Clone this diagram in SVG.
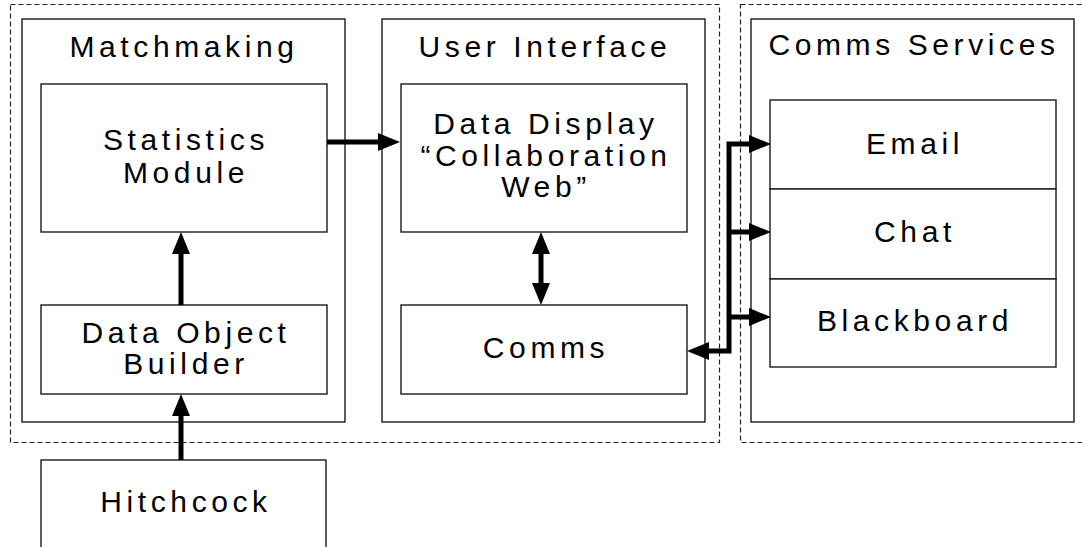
<svg xmlns="http://www.w3.org/2000/svg" width="1082" height="547" viewBox="0 0 1082 547">
<style>
.bg{fill:#ffffff}
.grp{fill:none;stroke:#222;stroke-width:1.2;stroke-dasharray:5 3}
.box{fill:#ffffff;stroke:#1a1a1a;stroke-width:1.4}
.t{font-family:"Liberation Sans",Arial,Helvetica,sans-serif;font-size:30px;letter-spacing:4.6px;fill:#000;text-anchor:middle}
.c{fill:none;stroke:#000;stroke-width:5;stroke-linejoin:miter}
.ca{marker-end:url(#ah)}
.cb{marker-start:url(#ah);marker-end:url(#ah)}
.cs{marker-start:url(#ah)}
</style>
<defs>
<marker id="ah" markerUnits="userSpaceOnUse" markerWidth="24" markerHeight="20" viewBox="0 -10 24 20" refX="0" refY="0" orient="auto-start-reverse">
<path d="M0,-9 L22,0 L0,9 z" fill="#000"/>
</marker>
</defs>
<rect class="bg" x="0" y="0" width="1082" height="547"/>
<g id="group-left"><rect class="grp" x="10.5" y="4.5" width="709" height="438"/></g>
<g id="group-right"><rect class="grp" x="740.5" y="4.5" width="360" height="438"/></g>
<g id="matchmaking"><rect class="box" x="22" y="19" width="323" height="403"/><text class="t" x="184" y="57">Matchmaking</text></g>
<g id="user-interface"><rect class="box" x="382" y="19" width="323" height="403"/><text class="t" x="545" y="57">User Interface</text></g>
<g id="comms-services"><rect class="box" x="751" y="19" width="323" height="403"/><text class="t" x="914" y="55">Comms Services</text></g>
<g id="statistics-module"><rect class="box" x="41" y="84" width="286" height="148"/><text class="t" x="186" y="150">Statistics</text><text class="t" x="186" y="183">Module</text></g>
<g id="data-object-builder"><rect class="box" x="41" y="305" width="286" height="89"/><text class="t" x="186" y="343">Data Object</text><text class="t" x="186" y="374">Builder</text></g>
<g id="data-display"><rect class="box" x="401" y="84" width="286" height="148"/><text class="t" x="546" y="134">Data Display</text><text class="t" x="546" y="166">“Collaboration</text><text class="t" x="546" y="197">Web”</text></g>
<g id="comms"><rect class="box" x="401" y="305" width="286" height="89"/><text class="t" x="546" y="358">Comms</text></g>
<g id="email"><rect class="box" x="770" y="100" width="286" height="89"/><text class="t" x="915" y="154">Email</text></g>
<g id="chat"><rect class="box" x="770" y="189" width="286" height="90"/><text class="t" x="915" y="242">Chat</text></g>
<g id="blackboard"><rect class="box" x="770" y="279" width="286" height="88"/><text class="t" x="915" y="331">Blackboard</text></g>
<g id="hitchcock"><rect class="box" x="41" y="460" width="285" height="110"/><text class="t" x="186" y="512">Hitchcock</text></g>
<g id="connectors">
<path class="c ca" d="M327,142 H378"/>
<path class="c ca" d="M181,305 V254"/>
<path class="c ca" d="M181,460 V416"/>
<path class="c cb" d="M541,254 V283"/>
<path class="c cs ca" d="M709,351 H729 V144 H749"/>
<path class="c ca" d="M729,232 H749"/>
<path class="c ca" d="M729,317 H749"/>
</g>
</svg>
